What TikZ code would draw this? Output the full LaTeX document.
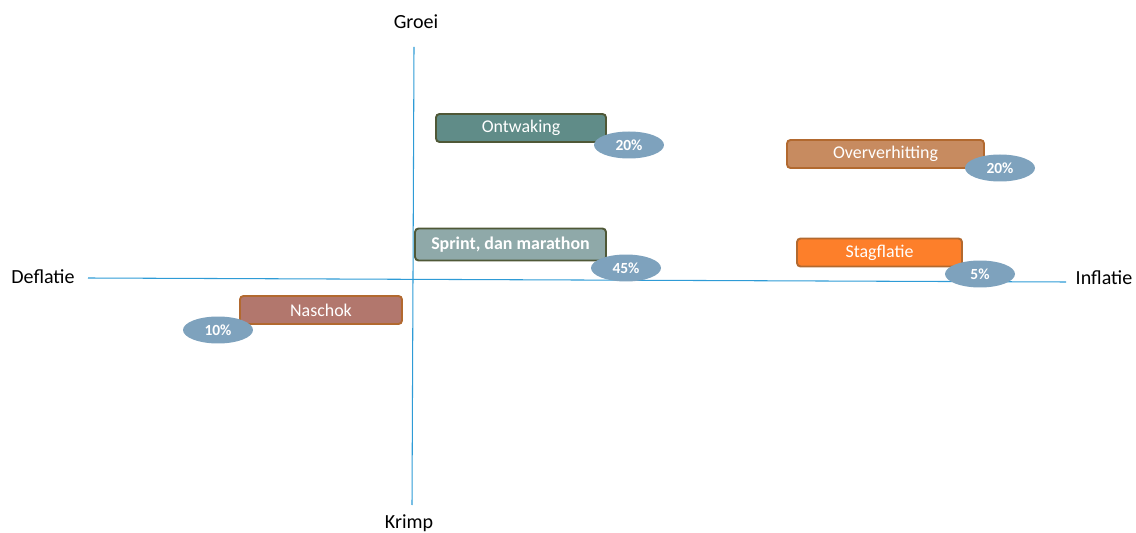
\documentclass[tikz,border=0pt]{standalone}
\usepackage{fontspec}
\setmainfont{Carlito}
\usetikzlibrary{shapes}
\definecolor{axisblue}{HTML}{2E9BD6}
\definecolor{pctblue}{HTML}{7EA2BD}
\definecolor{olive}{HTML}{4F5837}
\definecolor{rust}{HTML}{B2692F}
\definecolor{teal}{HTML}{608C88}
\definecolor{sage}{HTML}{8FA9A9}
\definecolor{rose}{HTML}{B2776D}
\definecolor{tan}{HTML}{C78B60}
\definecolor{blaze}{HTML}{FD7F2A}

\begin{document}
\begin{tikzpicture}[x=0.02cm, y=-0.02cm, axis/.style={draw=axisblue, line width=0.6pt}, lbl/.style={font=\fontsize{11.4}{13}\selectfont}, scen/.style={draw, line width=1.1pt, rounded corners=2pt, text=white, font=\fontsize{10.2}{12}\selectfont, minimum height=0.56cm, inner sep=0pt}, pct/.style={ellipse, fill=pctblue, text=white, font=\bfseries\fontsize{8.8}{10}\selectfont, minimum width=1.4cm, minimum height=0.54cm, inner sep=0pt}]
  \useasboundingbox (0,0) rectangle (1136,533);
  % axes
  \coordinate (top) at (414,47);
  \coordinate (bottom) at (412,505);
  \coordinate (left) at (88,278);
  \coordinate (right) at (1066,282);
  \draw[axis] (top) -- (bottom);
  \draw[axis] (left) -- (right);
  \node[lbl] (groei) at (416,22) {Groei};
  \node[lbl] (krimp) at (409,523) {Krimp};
  \node[lbl] (deflatie) at (43,277) {Deflatie};
  \node[lbl] (inflatie) at (1104,278) {Inflatie};
  % scenarios
  \node[scen, fill=teal, draw=olive, minimum width=3.4cm] (ontwaking) at (521,128) {Ontwaking};
  \node[pct] (p1) at (629,145) {20\%};
  \node[scen, fill=sage, draw=olive, minimum width=3.82cm, minimum height=0.64cm, font=\bfseries\fontsize{10.2}{12}\selectfont] (sprint) at (510.5,244.5) {Sprint, dan marathon};
  \node[pct] (p2) at (626,268) {45\%};
  \node[scen, fill=rose, draw=rust, minimum width=3.24cm] (naschok) at (321,310) {Naschok};
  \node[pct] (p3) at (218,330) {10\%};
  \node[scen, fill=tan, draw=rust, minimum width=3.94cm] (overhit) at (885.5,154) {Oververhitting};
  \node[pct] (p4) at (1000,168) {20\%};
  \node[scen, fill=blaze, draw=rust, minimum width=3.3cm] (stag) at (879.5,252.5) {Stagflatie};
  \node[pct] (p5) at (980,274) {5\%};
\end{tikzpicture}
\end{document}
